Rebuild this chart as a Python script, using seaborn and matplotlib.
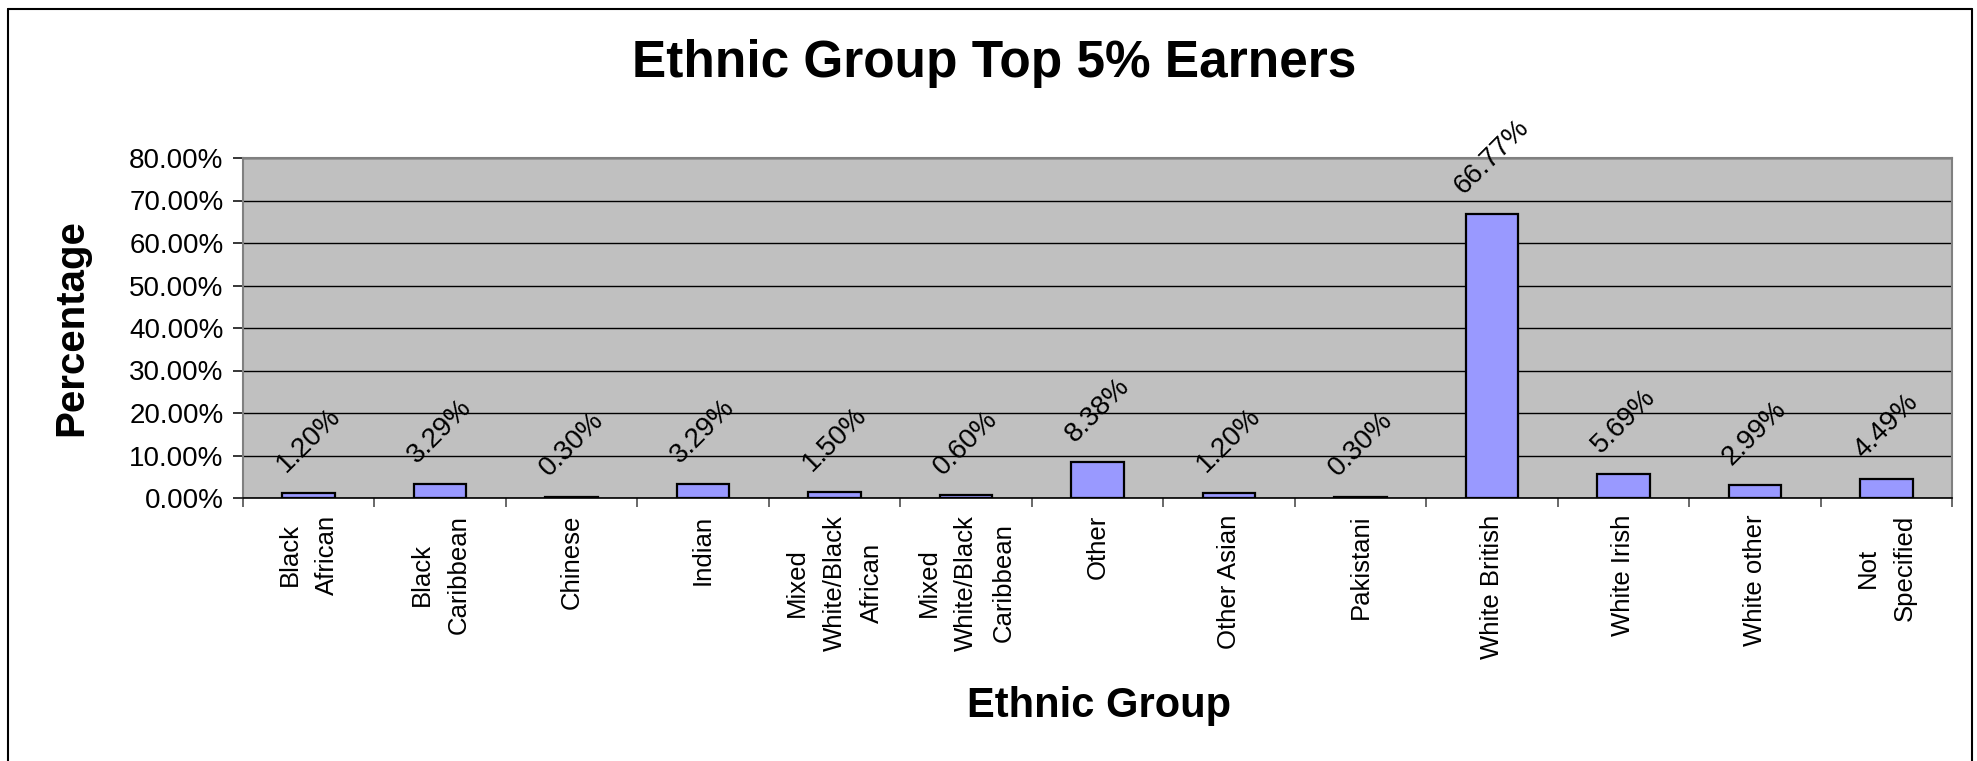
import matplotlib
matplotlib.use("Agg")
import matplotlib.pyplot as plt
from matplotlib.ticker import PercentFormatter, FixedLocator
from matplotlib.lines import Line2D
import seaborn as sns
import pandas as pd

categories = ["Black\nAfrican", "Black\nCaribbean", "Chinese", "Indian",
              "Mixed\nWhite/Black\nAfrican", "Mixed\nWhite/Black\nCaribbean",
              "Other", "Other Asian", "Pakistani", "White British",
              "White Irish", "White other", "Not\nSpecified"]
values_pct = [1.20, 3.29, 0.30, 3.29, 1.50, 0.60, 8.38, 1.20, 0.30, 66.77, 5.69, 2.99, 4.49]
y_ticks_pct = [0, 10, 20, 30, 40, 50, 60, 70, 80]

title = "Ethnic Group Top 5% Earners"
x_title = "Ethnic Group"
y_title = "Percentage"

sns.set_theme(style="white")
plt.rcParams["font.family"] = ["Liberation Sans", "DejaVu Sans"]
plt.rcParams["text.color"] = "black"
plt.rcParams["axes.labelcolor"] = "black"
plt.rcParams["xtick.color"] = "black"
plt.rcParams["ytick.color"] = "black"

df = pd.DataFrame({"group": categories, "share": [v / 100 for v in values_pct]})

fig = plt.figure(figsize=(19.77, 7.61), dpi=100)
fig.patch.set_facecolor("white")
ax = fig.add_axes([243 / 1977, 1 - 498 / 761, (1952 - 243) / 1977, (498 - 158) / 761])
ax.set_facecolor("#C0C0C0")

sns.barplot(data=df, x="group", y="share", color="#9999FF", width=0.4,
            edgecolor="black", linewidth=1.6, saturation=1, ax=ax, zorder=3)

ax.set_xlim(-0.5, len(categories) - 0.5)
ax.set_ylim(0, 0.8)
ax.yaxis.set_major_locator(FixedLocator([t / 100 for t in y_ticks_pct]))
ax.yaxis.set_major_formatter(PercentFormatter(1, decimals=2))
ax.grid(axis="y", color="black", linewidth=1.0, zorder=1)
ax.set_axisbelow(True)

for side in ["left", "top", "right"]:
    ax.spines[side].set_color("#808080")
    ax.spines[side].set_linewidth(1.5)
ax.spines["bottom"].set_color("black")
ax.spines["bottom"].set_linewidth(1.2)

ax.tick_params(axis="y", which="major", left=True, length=7, width=1.1,
               color="black", labelsize=20, labelcolor="black", pad=7,
               direction="out")
ax.tick_params(axis="x", which="major", bottom=True, length=0, pad=12,
               labelcolor="black")
ax.set_xticks(range(len(categories)))
ax.set_xticklabels(categories, rotation=90, ha="center", va="top",
                   fontsize=18.5, color="black", multialignment="center",
                   linespacing=1.7)
ax.set_xticks([i - 0.5 for i in range(len(categories) + 1)], minor=True)
ax.tick_params(axis="x", which="minor", bottom=True, length=6.5, width=1.1,
               color="#404040", direction="out")

ax.set_xlabel("")
ax.set_ylabel("")

for i, v in enumerate(values_pct):
    ax.annotate(f"{v:.2f}%", xy=(i, v / 100), xytext=(0, 11),
                textcoords="offset points", ha="center", va="bottom",
                rotation=45, fontsize=20, color="black", zorder=5,
                annotation_clip=False)

fig.text(0.503, 1 - 77 / 761, title, ha="center", va="baseline",
         fontsize=37, fontweight="bold", color="black")
fig.text(1099 / 1977, 1 - 717 / 761, x_title, ha="center", va="baseline",
         fontsize=30, fontweight="bold", color="black")
fig.text(71 / 1977, 1 - 328 / 761, y_title, ha="center", va="center",
         rotation=90, fontsize=29, fontweight="bold", color="black")

# outer chart-area border
x0, x1 = 8 / 1977, 1972 / 1977
y0, y1 = 0.0, 1 - 9 / 761
for xs, ys in [([x0, x0], [y0, y1]), ([x0, x1], [y1, y1]), ([x1, x1], [y1, y0])]:
    fig.add_artist(Line2D(xs, ys, color="black", linewidth=1.5,
                          transform=fig.transFigure))

fig.savefig("out.png", dpi=100)
